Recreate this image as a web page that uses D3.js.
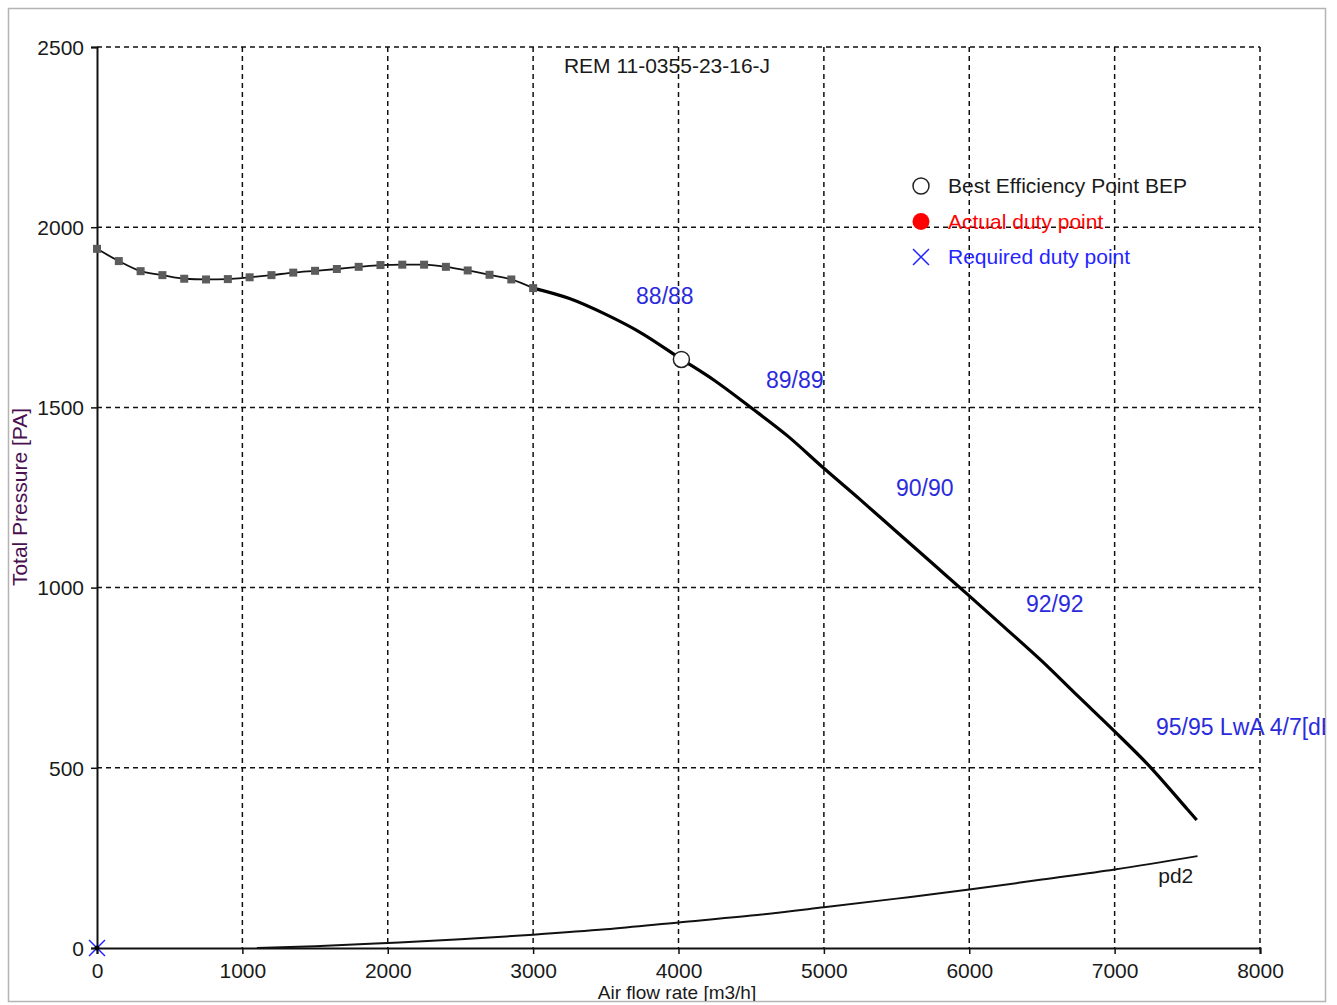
<!DOCTYPE html>
<html>
<head>
<meta charset="utf-8">
<script src="https://cdn.jsdelivr.net/npm/d3@7"></script>
<style>
  body { margin: 0; background: #fff; }
  svg { display: block; font-family: "Liberation Sans", Arial, sans-serif; }
</style>
</head>
<body>
<svg id="chart" width="1337" height="1005"></svg>
<script>
// Fan curve. Flow in m3/h, pressure in Pa.
var markedFlow = [0, 150, 300, 450, 600, 750, 900, 1050, 1200, 1350, 1500,
                  1650, 1800, 1950, 2100, 2250, 2400, 2550, 2700, 2850, 3000];
var markedPressure = [1940, 1906, 1878, 1867, 1857, 1855, 1856, 1861, 1867, 1874, 1879,
                      1884, 1890, 1895, 1896, 1896, 1890, 1880, 1868, 1855, 1831];

var curveFlow = [3000, 3250, 3500, 3750, 4000, 4250, 4500, 4750, 5000, 5250, 5500,
                 5750, 6000, 6250, 6500, 6750, 7000, 7250, 7500, 7565];
var curvePressure = [1831, 1802, 1758, 1705, 1639, 1574, 1499, 1421, 1331, 1244, 1155,
                     1066, 977, 887, 796, 698, 601, 500, 385, 355];

var pd2Flow = [1100, 1500, 2000, 2500, 3000, 3500, 4000, 4500, 5000, 5500, 6000, 6500, 7000, 7570];
var pd2Pressure = [0, 5, 14, 24, 37, 52, 71, 90, 113, 137, 162, 190, 218, 255];

var bepPoint = [4020, 1633];
var requiredPoint = [0, 0];

// Noise labels along the curve: text, flow at text start, pressure at text middle.
var noiseLabels = ['88/88', '89/89', '90/90', '92/92', '95/95 LwA 4/7[dB]'];
var noiseFlow = [3708, 4602, 5496, 6390, 7284];
var noisePressure = [1809, 1576, 1276, 954, 613];

var xTicks = [0, 1000, 2000, 3000, 4000, 5000, 6000, 7000, 8000];
var yTicks = [0, 500, 1000, 1500, 2000, 2500];

var legendNames = ['Best Efficiency Point BEP', 'Actual duty point', 'Required duty point'];
var legendColors = ['#1a1a1a', '#ff0000', '#2525ff'];

var svg = d3.select('#chart');

var x = d3.scaleLinear().domain([0, 8000]).range([97, 1260]);
var y = d3.scaleLinear().domain([0, 2500]).range([948, 47]);

svg.append('rect')
   .attr('x', 8.5).attr('y', 8.5)
   .attr('width', 1317).attr('height', 993)
   .attr('fill', '#fff')
   .attr('stroke', '#b4b4b4')
   .attr('stroke-width', 1.5);

// The chart control clips everything at its frame, the last label included.
svg.append('clipPath').attr('id', 'frame')
   .append('rect').attr('x', 9).attr('y', 9).attr('width', 1316).attr('height', 992);

var root = svg.append('g').attr('clip-path', 'url(#frame)');

// Dashed grid, one line per tick except the axes themselves.
root.append('g').selectAll('line')
    .data(xTicks.filter(function(d) { return d > 0; }))
    .enter().append('line')
    .attr('x1', function(d) { return x(d); })
    .attr('x2', function(d) { return x(d); })
    .attr('y1', y(2500)).attr('y2', y(0))
    .attr('stroke', '#111').attr('stroke-width', 1.5)
    .attr('stroke-dasharray', '5,4');

root.append('g').selectAll('line')
    .data(yTicks.filter(function(d) { return d > 0; }))
    .enter().append('line')
    .attr('x1', x(0)).attr('x2', x(8000))
    .attr('y1', function(d) { return y(d); })
    .attr('y2', function(d) { return y(d); })
    .attr('stroke', '#111').attr('stroke-width', 1.5)
    .attr('stroke-dasharray', '5,4');

var xAxis = root.append('g')
    .attr('transform', 'translate(0,' + y(0) + ')')
    .call(d3.axisBottom(x).tickValues(xTicks).tickFormat(d3.format('d'))
            .tickSizeOuter(0).tickSize(6).tickPadding(9));

var yAxis = root.append('g')
    .attr('transform', 'translate(' + x(0) + ',0)')
    .call(d3.axisLeft(y).tickValues(yTicks).tickFormat(d3.format('d'))
            .tickSizeOuter(0).tickSize(6).tickPadding(7));

[xAxis, yAxis].forEach(function(axis) {
  axis.select('.domain').attr('stroke', '#111').attr('stroke-width', 2);
  axis.selectAll('.tick line').attr('stroke', '#111').attr('stroke-width', 1.5);
  axis.selectAll('.tick text')
      .attr('fill', '#1a1a1a')
      .style('font-family', '"Liberation Sans", Arial, sans-serif')
      .style('font-size', '21px');
});
yAxis.selectAll('.tick text').attr('dy', '0.35em');

var line = d3.line()
    .curve(d3.curveMonotoneX)
    .x(function(d) { return x(d[0]); })
    .y(function(d) { return y(d[1]); });

var marked = d3.zip(markedFlow, markedPressure);
var curve = d3.zip(curveFlow, curvePressure);
var pd2 = d3.zip(pd2Flow, pd2Pressure);

root.append('path')
    .attr('d', line(pd2))
    .attr('fill', 'none').attr('stroke', '#111').attr('stroke-width', 2);

root.append('path')
    .attr('d', line(marked))
    .attr('fill', 'none').attr('stroke', '#111').attr('stroke-width', 1.8);

root.append('path')
    .attr('d', line(curve))
    .attr('fill', 'none').attr('stroke', '#000').attr('stroke-width', 3.2)
    .attr('stroke-linejoin', 'round');

root.append('g').selectAll('rect')
    .data(marked)
    .enter().append('rect')
    .attr('x', function(d) { return x(d[0]) - 4; })
    .attr('y', function(d) { return y(d[1]) - 4; })
    .attr('width', 8).attr('height', 8)
    .attr('fill', '#5c5c5c');

root.append('circle')
    .attr('cx', x(bepPoint[0])).attr('cy', y(bepPoint[1])).attr('r', 8)
    .attr('fill', '#fff').attr('stroke', '#222').attr('stroke-width', 1.5);

// Required duty point sits at the origin.
var rx = x(requiredPoint[0]), ry = y(requiredPoint[1]);
root.append('path')
    .attr('d', 'M' + (rx - 8) + ',' + (ry - 8) + 'L' + (rx + 8) + ',' + (ry + 8) +
               'M' + (rx - 8) + ',' + (ry + 8) + 'L' + (rx + 8) + ',' + (ry - 8))
    .attr('stroke', '#2525ff').attr('stroke-width', 1.5);
root.append('circle').attr('cx', rx).attr('cy', ry).attr('r', 2.5).attr('fill', '#000');

root.append('g').selectAll('text')
    .data(noiseLabels)
    .enter().append('text')
    .attr('x', function(d, i) { return x(noiseFlow[i]); })
    .attr('y', function(d, i) { return y(noisePressure[i]); })
    .attr('dy', '0.35em')
    .attr('fill', '#2b2bdc')
    .style('font-size', '23px')
    .text(function(d) { return d; });

root.append('text')
    .attr('x', x(7300)).attr('y', y(200)).attr('dy', '0.35em')
    .attr('fill', '#1a1a1a').style('font-size', '21px')
    .text('pd2');

root.append('text')
    .attr('x', 667).attr('y', 73)
    .attr('text-anchor', 'middle')
    .attr('fill', '#1a1a1a').style('font-size', '21px')
    .text('REM 11-0355-23-16-J');

root.append('text')
    .attr('x', 677).attr('y', 999)
    .attr('text-anchor', 'middle')
    .attr('fill', '#1a1a1a').style('font-size', '19px')
    .text('Air flow rate [m3/h]');

root.append('text')
    .attr('transform', 'translate(27,497) rotate(-90)')
    .attr('text-anchor', 'middle')
    .attr('fill', '#4a1050').style('font-size', '21px')
    .text('Total Pressure [PA]');

// Legend
var legend = root.append('g').attr('transform', 'translate(921,186)');
var items = legend.selectAll('g')
    .data(legendNames)
    .enter().append('g')
    .attr('transform', function(d, i) { return 'translate(0,' + (i * 35.5) + ')'; });

items.append('text')
    .attr('x', 27).attr('dy', '0.35em')
    .attr('fill', function(d, i) { return legendColors[i]; })
    .style('font-size', '21px')
    .text(function(d) { return d; });

legend.append('circle').attr('r', 8)
      .attr('fill', '#fff').attr('stroke', '#222').attr('stroke-width', 1.5);
legend.append('circle').attr('cy', 35.5).attr('r', 8.5).attr('fill', '#ff0000');
legend.append('path')
      .attr('d', 'M-8,63L8,79M-8,79L8,63')
      .attr('stroke', '#2525ff').attr('stroke-width', 1.5);
</script>
</body>
</html>
